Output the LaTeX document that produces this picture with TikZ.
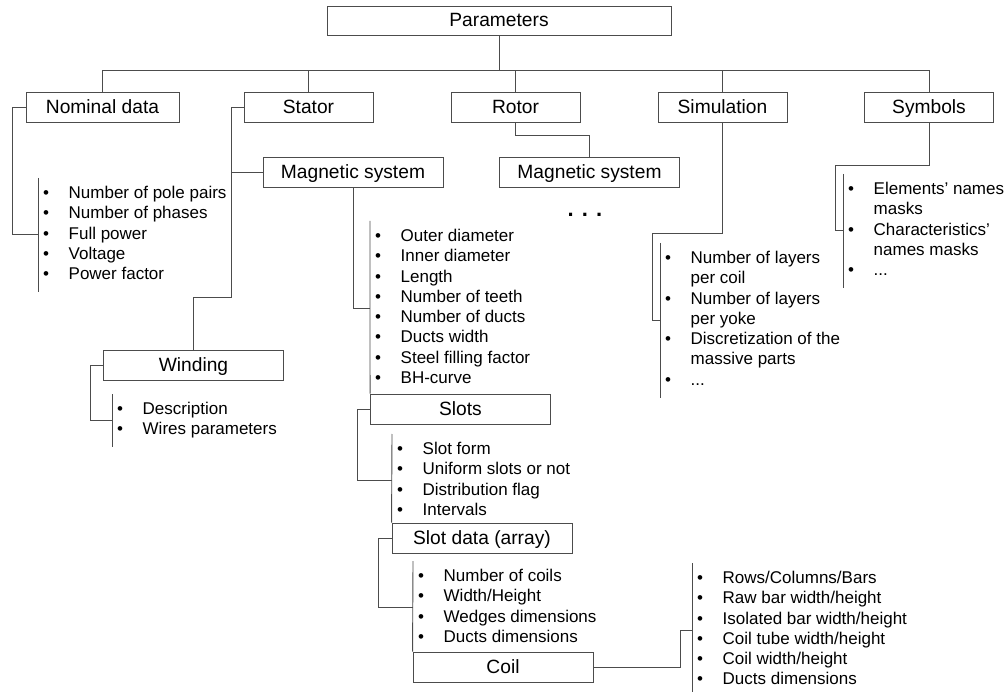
\documentclass[tikz,border=0pt]{standalone}
\usepackage{fontspec}
\setmainfont{Liberation Sans}
\usetikzlibrary{positioning}
\newcommand{\itm}{\strut\makebox[25.5pt][l]{\textbullet}}
\newcommand{\cnt}{\strut\hspace*{25.5pt}}

\begin{document}
\begin{tikzpicture}[
    x=1pt, y=-1pt,
    box/.style={
      rectangle, draw=black!70, line width=0.9pt,
      minimum width=180pt, minimum height=30pt, inner sep=0pt,
      text height=16.5pt, text depth=4pt,
      font=\fontsize{19.2}{23}\selectfont
    },
    topbox/.style={box, minimum width=129pt},
    itemlist/.style={
      anchor=north west, align=left, inner xsep=5pt, inner ysep=6pt,
      font=\fontsize{17}{20.3}\selectfont
    },
    link/.style={draw=black!70, line width=0.9pt}
  ]
  \useasboundingbox (0,0) rectangle (1006,692);
  \node[box, minimum width=344pt, minimum height=29pt] (params) at (499,20.5) {Parameters};
  \node[topbox, minimum width=153pt] (nominal) at (102.5,107) {Nominal data};
  \node[topbox] (stator) at (308.5,107) {Stator};
  \node[topbox] (rotor) at (515.5,107) {Rotor};
  \node[topbox] (simulation) at (722.5,107) {Simulation};
  \node[topbox] (symbols) at (929,107) {Symbols};
  \node[box] (statormag) at (353,172) {Magnetic system};
  \node[box] (rotormag) at (589.5,172) {Magnetic system};
  \node[box] (winding) at (193.5,365) {Winding};
  \node[box] (slots) at (460.5,409) {Slots};
  \node[box] (slotdata) at (482,538) {Slot data (array)};
  \node[box] (coil) at (503,667) {Coil};
  \node[anchor=base, font=\bfseries\fontsize{22}{22}\selectfont] (rotordots) at (585,217) {. . .};
  % bullet lists
  \node[itemlist] (nominallist) at (38,178) {\itm Number of pole pairs\\ \itm Number of phases\\ \itm Full power\\ \itm Voltage\\ \itm Power factor};
  \node[itemlist] (windinglist) at (112,394) {\itm Description\\ \itm Wires parameters};
  \node[itemlist] (magneticlist) at (370,221) {\itm Outer diameter\\ \itm Inner diameter\\ \itm Length\\ \itm Number of teeth\\ \itm Number of ducts\\ \itm Ducts width\\ \itm Steel filling factor\\ \itm BH-curve};
  \node[itemlist] (slotslist) at (392,434) {\itm Slot form\\ \itm Uniform slots or not\\ \itm Distribution flag\\ \itm Intervals};
  \node[itemlist] (slotdatalist) at (413,561) {\itm Number of coils\\ \itm Width/Height\\ \itm Wedges dimensions\\ \itm Ducts dimensions};
  \node[itemlist] (coillist) at (692,563) {\itm Rows/Columns/Bars\\ \itm Raw bar width/height\\ \itm Isolated bar width/height\\ \itm Coil tube width/height\\ \itm Coil width/height\\ \itm Ducts dimensions};
  \node[itemlist] (simulationlist) at (660,243) {\itm Number of layers\\ \cnt per coil\\ \itm Number of layers\\ \cnt per yoke\\ \itm Discretization of the\\ \cnt massive parts\\ \itm ...};
  \node[itemlist] (symbolslist) at (843,174) {\itm Elements’ names\\ \cnt masks\\ \itm Characteristics’\\ \cnt names masks\\ \itm ...};
  % tree links
  \draw[link] (params.south) -- ++(0,35) coordinate (bus);
  \foreach \n in {nominal,stator,rotor,simulation,symbols}
    \draw[link] (bus) -| (\n.north);
  \draw[link] (nominal.west) -- ++(-13,0) |- (nominallist.west);
  \draw[link] (stator.west) -- ++(-12,0) coordinate (statorfork) -- ++(0,190) -| (winding.north);
  \draw[link] (statorfork |- statormag.west) -- (statormag.west);
  \draw[link] (winding.west) -- ++(-13,0) |- (windinglist.west);
  \draw[link] (statormag.south) |- (magneticlist.west);
  \draw[link] (slots.west) -- ++(-13,0) |- (slotslist.west);
  \draw[link] (slotdata.west) -- ++(-13,0) |- (slotdatalist.west);
  \draw[link] (coil.east) -- ++(87,0) |- (coillist.west);
  \draw[link] (rotor.south) -- ++(0,13) -| (rotormag.north);
  \draw[link] (simulation.south) -- ++(0,111) -- ++(-70,0) |- (simulationlist.west);
  \draw[link] (symbols.south) -- ++(0,43) -- ++(-94,0) |- (symbolslist.west);
  % list bars
  \draw[link] (nominallist.north west) -- (nominallist.south west);
  \draw[link] (windinglist.north west) -- (windinglist.south west);
  \draw[link] (magneticlist.north west) -- (slots.north west);
  \draw[link] (slotslist.north west) -- (slotdata.north west);
  \draw[link] (slotdatalist.north west) -- (coil.north west);
  \draw[link] (coillist.north west) -- (coillist.south west);
  \draw[link] (simulationlist.north west) -- (simulationlist.south west);
  \draw[link] (symbolslist.north west) -- (symbolslist.south west);
\end{tikzpicture}
\end{document}
